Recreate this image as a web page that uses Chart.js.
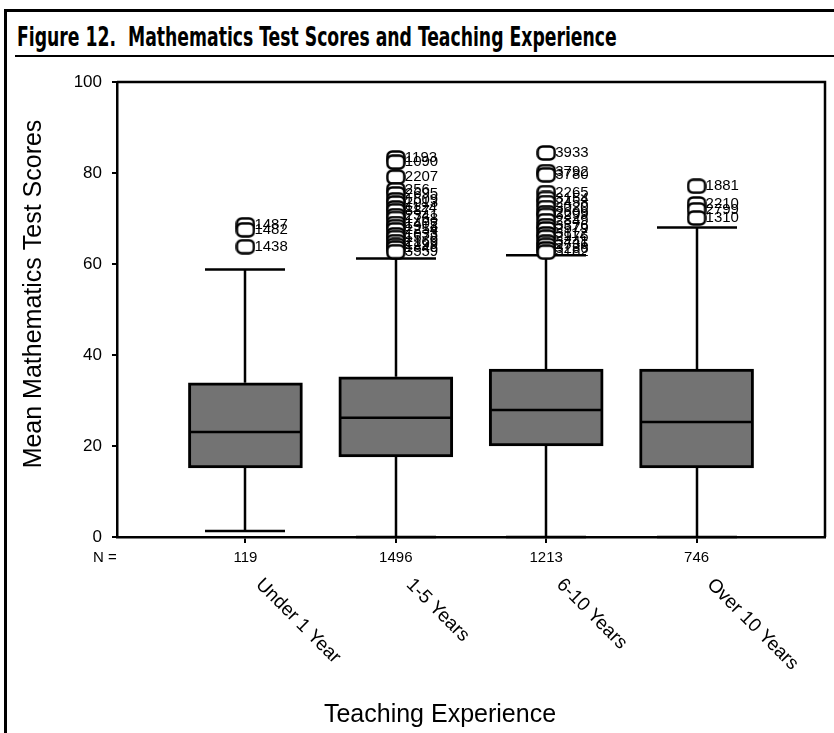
<!DOCTYPE html>
<html>
<head>
<meta charset="utf-8">
<script src="https://cdn.jsdelivr.net/npm/chart.js@4.4.0/dist/chart.umd.min.js"></script>
<style>
body { margin: 0; background: #fff; }
#wrap { position: relative; width: 834px; height: 733px; overflow: hidden; }
#frame { position: absolute; left: 4px; top: 9px; width: 900px; height: 800px; border-left: 3px solid #000; border-top: 3px solid #000; }
#title { position: absolute; left: 17px; top: 22px; font: bold 26px "DejaVu Sans Condensed", "DejaVu Sans", sans-serif; white-space: nowrap; transform-origin: 0 0; }
#rule { position: absolute; left: 15px; top: 55px; width: 830px; border-top: 2px solid #000; }
canvas { position: absolute; left: 0; top: 0; }
</style>
</head>
<body>
<div id="wrap">
  <div id="frame"></div>
  <div id="title">Figure 12.&nbsp; Mathematics Test Scores and Teaching Experience</div>
  <div id="rule"></div>
  <canvas id="myChart" width="834" height="733"></canvas>
</div>
<script>
var categories = ['Under 1 Year', '1-5 Years', '6-10 Years', 'Over 10 Years'];
var counts = [119, 1496, 1213, 746];
var whiskerLow = [1.3, 0, 0, 0];
var quart1 = [15.2, 17.6, 20.0, 15.2];
var medians = [23.1, 26.2, 27.9, 25.3];
var quart3 = [33.9, 35.2, 36.9, 36.9];
var whiskerHigh = [58.8, 61.2, 61.9, 68.0];
var yTicks = [0, 20, 40, 60, 80, 100];

var outlierValues = [
  [68.6, 67.5, 63.8],
  [83.3, 82.4, 79.1, 76.3, 75.4, 74.1, 73.4, 72.3, 71.7, 70.6, 70.0, 68.9, 68.2, 67.5, 66.4, 65.8, 64.9, 64.1, 63.5, 62.7],
  [84.4, 80.3, 79.6, 75.7, 74.4, 73.5, 72.4, 71.3, 70.7, 69.5, 68.4, 67.7, 66.6, 65.9, 64.8, 64.1, 63.3, 62.6],
  [77.1, 73.2, 71.9, 70.1]
];
var outlierIds = [
  ['1487', '1482', '1438'],
  ['1193', '1090', '2207', '256', '2695', '1509', '2013', '1124', '887', '2341', '1768', '1402', '1918', '2254', '1033', '1578', '2169', '1299', '1846', '3559'],
  ['3933', '3792', '3780', '2265', '3154', '2458', '3020', '2609', '3299', '2849', '3376', '2579', '3112', '2976', '3441', '2736', '3286', '3182'],
  ['1881', '2210', '2799', '1310']
];

var fontFamily = '"Liberation Sans", Arial, sans-serif';
Chart.defaults.font.family = fontFamily;
Chart.defaults.color = '#000';

// squeeze the title to the width it has in the reference
var titleEl = document.getElementById('title');
titleEl.style.transform = 'scaleX(' + (600 / titleEl.offsetWidth) + ')';

// SPSS style outlier marker
var marker = document.createElement('canvas');
marker.width = 20;
marker.height = 16;
var mc = marker.getContext('2d');
mc.lineWidth = 2.5;
mc.strokeStyle = '#000';
mc.fillStyle = '#fff';
mc.beginPath();
mc.roundRect(1.5, 1.5, 17, 13, 5);
mc.fill();
mc.stroke();

var boxData = categories.map(function(c, i) { return { x: i, y: [quart1[i], quart3[i]] }; });
var outlierData = [];
outlierValues.forEach(function(vals, i) {
  vals.forEach(function(v, j) { outlierData.push({ x: i, y: v, id: outlierIds[i][j] }); });
});

var BOX_W = 114;
var CAP_W = 80;

var boxExtras = {
  id: 'boxExtras',
  beforeDatasetsDraw: function(chart) {
    var ctx = chart.ctx, xs = chart.scales.x, ys = chart.scales.y;
    ctx.save();
    ctx.strokeStyle = '#000';
    ctx.lineWidth = 2.5;
    categories.forEach(function(c, i) {
      var cx = Math.round(xs.getPixelForValue(i));
      ctx.beginPath();
      ctx.moveTo(cx, ys.getPixelForValue(whiskerHigh[i]));
      ctx.lineTo(cx, ys.getPixelForValue(quart3[i]));
      ctx.moveTo(cx, ys.getPixelForValue(quart1[i]));
      ctx.lineTo(cx, ys.getPixelForValue(whiskerLow[i]));
      ctx.moveTo(cx - CAP_W / 2, ys.getPixelForValue(whiskerHigh[i]));
      ctx.lineTo(cx + CAP_W / 2, ys.getPixelForValue(whiskerHigh[i]));
      ctx.moveTo(cx - CAP_W / 2, ys.getPixelForValue(whiskerLow[i]));
      ctx.lineTo(cx + CAP_W / 2, ys.getPixelForValue(whiskerLow[i]));
      ctx.stroke();
    });
    // case labels of the outliers, markers go over them
    var meta = chart.getDatasetMeta(1);
    ctx.fillStyle = '#000';
    ctx.font = '15px ' + fontFamily;
    ctx.textBaseline = 'middle';
    ctx.textAlign = 'left';
    meta.data.forEach(function(pt, k) {
      ctx.fillText(outlierData[k].id, pt.x + 9, pt.y);
    });
    ctx.restore();
  },
  afterDatasetDraw: function(chart, args) {
    if (args.index !== 0) return;
    var ctx = chart.ctx, xs = chart.scales.x, ys = chart.scales.y;
    ctx.save();
    ctx.strokeStyle = '#000';
    ctx.lineWidth = 2.5;
    categories.forEach(function(c, i) {
      var cx = xs.getPixelForValue(i);
      var y = ys.getPixelForValue(medians[i]);
      ctx.beginPath();
      ctx.moveTo(cx - BOX_W / 2 + 2, y);
      ctx.lineTo(cx + BOX_W / 2 - 2, y);
      ctx.stroke();
    });
    ctx.restore();
  },
  afterDraw: function(chart) {
    var ctx = chart.ctx, xs = chart.scales.x, a = chart.chartArea;
    ctx.save();
    ctx.strokeStyle = '#000';
    ctx.lineWidth = 2.5;
    ctx.beginPath();
    ctx.moveTo(a.left, a.top);
    ctx.lineTo(a.right, a.top);
    ctx.lineTo(a.right, a.bottom);
    ctx.stroke();
    ctx.fillStyle = '#000';
    ctx.font = '15px ' + fontFamily;
    ctx.textAlign = 'center';
    ctx.textBaseline = 'middle';
    ctx.fillText('N =', 105, a.bottom + 21);
    // rotated category names
    ctx.font = '19px ' + fontFamily;
    ctx.textAlign = 'left';
    ctx.textBaseline = 'top';
    categories.forEach(function(c, i) {
      ctx.save();
      ctx.translate(xs.getPixelForValue(i) + 20, a.bottom + 38);
      ctx.rotate(Math.PI / 4);
      ctx.fillText(c, 0, 0);
      ctx.restore();
    });
    // axis titles
    ctx.font = '25px ' + fontFamily;
    ctx.textAlign = 'center';
    ctx.textBaseline = 'middle';
    ctx.fillText('Teaching Experience', 440, 715);
    ctx.translate(34, 294);
    ctx.rotate(-Math.PI / 2);
    ctx.fillText('Mean Mathematics Test Scores', 0, 0);
    ctx.restore();
  }
};

var ctx = document.getElementById('myChart');
var chart = new Chart(ctx, {
  type: 'bar',
  data: {
    datasets: [{
      label: 'Box',
      data: boxData,
      backgroundColor: '#737373',
      borderColor: '#000',
      borderWidth: 3,
      borderSkipped: false,
      barThickness: BOX_W
    }, {
      type: 'scatter',
      label: 'Outliers',
      data: outlierData,
      pointStyle: marker,
      pointRadius: 8,
      clip: false
    }]
  },
  options: {
    responsive: false,
    animation: false,
    events: [],
    layout: { padding: { left: 0, top: 82, right: 6, bottom: 0 } },
    plugins: {
      legend: { display: false },
      tooltip: { enabled: false }
    },
    scales: {
      x: {
        type: 'linear',
        offset: false,
        min: -0.854,
        max: 3.854,
        afterBuildTicks: function(s) { s.ticks = counts.map(function(c, i) { return { value: i }; }); },
        afterFit: function(s) { s.height = 196; },
        ticks: {
          callback: function(v) { return counts[v]; },
          font: { size: 15 },
          color: '#000',
          padding: 6,
          maxRotation: 0,
          autoSkip: false
        },
        grid: { offset: false, drawOnChartArea: false, tickLength: 6, color: '#000', lineWidth: 2 },
        border: { color: '#000', width: 2.5 }
      },
      y: {
        min: 0,
        max: 100,
        afterBuildTicks: function(s) { s.ticks = yTicks.map(function(v) { return { value: v }; }); },
        afterFit: function(s) { s.width = 117; },
        ticks: { font: { size: 17 }, color: '#000', padding: 10 },
        grid: { drawOnChartArea: false, tickLength: 5, color: '#000', lineWidth: 2 },
        border: { color: '#000', width: 2.5 }
      }
    }
  },
  plugins: [boxExtras]
});
</script>
</body>
</html>
